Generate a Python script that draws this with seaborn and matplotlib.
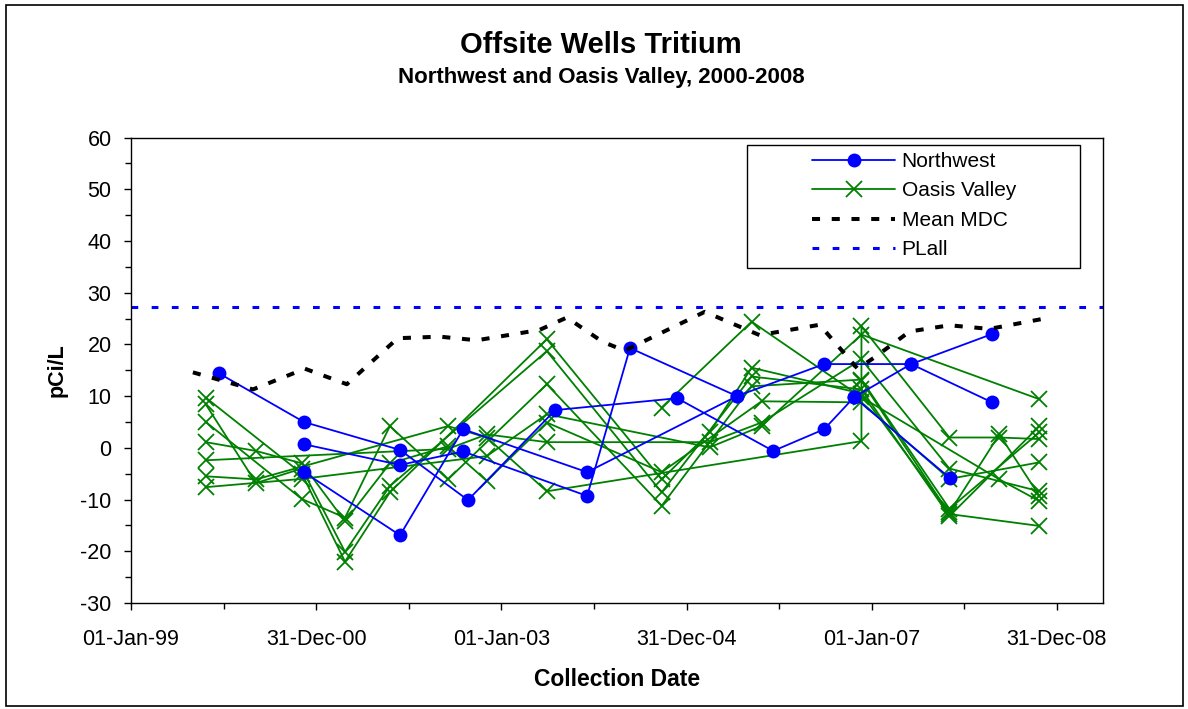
import pandas as pd
import matplotlib
matplotlib.use("Agg")
import matplotlib.pyplot as plt
import matplotlib.dates as mdates
from matplotlib.lines import Line2D
from matplotlib.patches import Rectangle
import seaborn as sns

# Northwest wells (sample date, pCi/L)
nw1_dates = ["1999-12-14", "2000-11-13", "2001-11-27", "2002-08-22", "2003-08-01",
             "2004-11-24", "2005-12-08", "2006-06-27", "2006-10-23", "2007-11-06"]
nw1_vals = [14.4, 5.0, -0.4, -10.1, 7.3, 9.6, -0.6, 3.6, 9.8, -5.9]
nw2_dates = ["2000-11-13", "2001-11-27", "2002-08-03", "2003-12-05", "2004-05-22",
             "2005-07-18", "2006-06-27", "2007-06-05", "2008-04-19"]
nw2_vals = [0.7, -3.3, -0.7, -9.3, 19.3, 10.0, 16.2, 16.2, 22.0]
nw3_dates = ["2000-11-13", "2001-11-27", "2002-08-03", "2003-12-05", "2005-07-18"]
nw3_vals = [-4.7, -16.9, 3.6, -4.7, 10.0]
nw4_dates = ["2006-10-23", "2007-06-05", "2008-04-19"]
nw4_vals = [9.8, 16.2, 8.8]

# Oasis Valley wells
ov_dates = {
    "G1": ["1999-10-23", "2000-11-05", "2001-04-24", "2001-10-18", "2003-06-29", "2004-09-24",
           "2005-04-01", "2005-09-14", "2006-11-21", "2007-11-03", "2008-05-18", "2008-10-23"],
    "G2": ["1999-10-23", "2000-05-08", "2000-11-05", "2001-04-24", "2001-10-18", "2003-06-29",
           "2004-09-24", "2005-09-14", "2006-11-21", "2007-11-03", "2008-10-23"],
    "G3": ["1999-10-23", "2000-11-05", "2001-04-24", "2001-10-18", "2002-06-04", "2003-06-29",
           "2004-09-24", "2005-09-14", "2006-11-21", "2007-11-03", "2008-10-23"],
    "G4": ["1999-10-23", "2000-05-08", "2000-11-05", "2001-04-24", "2001-10-18", "2002-06-04",
           "2002-11-04", "2003-06-29", "2004-09-24", "2005-10-23", "2006-11-21", "2007-11-03",
           "2008-10-23"],
    "G5": ["1999-10-23", "2002-06-04", "2002-11-04", "2003-06-29", "2005-04-01", "2005-10-23",
           "2006-11-21", "2007-11-03", "2008-10-23"],
    "G6": ["1999-10-23", "2000-05-08", "2002-06-04", "2002-11-04", "2003-06-29", "2006-11-21",
           "2006-11-21", "2007-11-03", "2008-05-18", "2008-10-23"],
    "G7": ["1999-10-23", "2000-11-05", "2002-11-04", "2003-06-29", "2005-04-01", "2005-10-23",
           "2006-11-21", "2008-10-23"],
    "G8": ["2004-09-24", "2005-09-14", "2006-11-21", "2008-05-18", "2008-10-23"],
    "G9": ["2006-11-21", "2007-11-03", "2008-10-23"],
}
ov_vals = {
    "G1": [9.7, -5.0, -22.0, -8.6, 21.0, -6.1, 3.0, 15.5, 10.5, -12.5, 2.6, -9.3],
    "G2": [8.4, -6.8, -4.0, -20.1, -7.4, 18.7, -8.6, 13.8, 11.3, -13.2, 4.2],
    "G3": [5.0, -9.9, -13.5, 4.2, -6.1, 12.3, -11.2, 11.9, 13.2, -11.8, 3.0],
    "G4": [1.1, -0.6, -3.0, -14.2, -3.0, 0.3, -6.4, 4.9, -4.7, 9.0, 8.8, -6.0, -2.8],
    "G5": [-2.4, -0.2, 2.6, 1.1, 1.1, 4.9, 17.1, -4.0, -8.4],
    "G6": [-5.5, -6.1, 4.2, 2.0, -8.4, 1.3, 23.5, 2.0, 2.0, 1.7],
    "G7": [-7.6, -6.0, -1.6, 6.5, 0.1, 4.2, 21.9, 9.4],
    "G8": [7.8, 24.4, 9.8, -6.1, -10.3],
    "G9": [13.0, -12.8, -15.1],
}

# Mean MDC
mdc_dates = ["1999-09-02", "2000-04-26", "2000-11-17", "2001-05-01", "2001-11-18", "2002-05-03",
             "2002-09-26", "2003-05-31", "2003-09-16", "2004-02-04", "2004-05-01", "2005-03-13",
             "2005-10-15", "2006-06-09", "2006-11-06", "2007-01-12", "2007-05-30", "2007-11-03",
             "2008-04-09", "2008-11-12"]
mdc_vals = [14.6, 11.3, 15.3, 12.3, 21.2, 21.5, 20.8, 22.8, 25.2, 20.5, 18.8, 26.3,
            21.8, 23.8, 15.3, 17.5, 22.5, 23.7, 23.0, 25.0]
plall = 27.2

xtick_dates = ["1999-01-01", "2000-12-31", "2003-01-01", "2004-12-31", "2007-01-01", "2008-12-31"]
xtick_labels = ["01-Jan-99", "31-Dec-00", "01-Jan-03", "31-Dec-04", "01-Jan-07", "31-Dec-08"]

nw_rows = []
for name, d, v in [("NW1", nw1_dates, nw1_vals), ("NW2", nw2_dates, nw2_vals),
                   ("NW3", nw3_dates, nw3_vals), ("NW4", nw4_dates, nw4_vals)]:
    for di, vi in zip(d, v):
        nw_rows.append({"well": name, "date": pd.Timestamp(di), "value": vi})
nw = pd.DataFrame(nw_rows)

ov_rows = []
for name in ov_dates:
    for di, vi in zip(ov_dates[name], ov_vals[name]):
        ov_rows.append({"well": name, "date": pd.Timestamp(di), "value": vi})
ov = pd.DataFrame(ov_rows)

mdc = pd.DataFrame({"date": pd.to_datetime(mdc_dates), "value": mdc_vals})

sns.set_style("ticks")
plt.rcParams['font.family'] = ['Liberation Sans', 'DejaVu Sans']
plt.rcParams['axes.unicode_minus'] = False
plt.rcParams['text.color'] = 'black'
plt.rcParams['axes.labelcolor'] = 'black'
plt.rcParams['xtick.color'] = 'black'
plt.rcParams['ytick.color'] = 'black'

fig = plt.figure(figsize=(11.88, 7.09), dpi=100)
ax = fig.add_axes([0.1103, 0.1495, 0.8182, 0.6565])

sns.lineplot(data=ov, x="date", y="value", units="well", estimator=None, sort=False,
             color="#008000", lw=1.3, marker="x", markersize=11, markeredgewidth=1.3,
             markeredgecolor="#008000", legend=False, ax=ax)
sns.lineplot(data=nw, x="date", y="value", units="well", estimator=None, sort=False,
             color="#0000ff", lw=1.3, marker="o", markersize=10, markeredgewidth=0,
             markeredgecolor="#0000ff", legend=False, ax=ax)
mdc_style = (0, (2.0, 2.9))
pl_style = (0, (2.2, 4.4))
sns.lineplot(data=mdc, x="date", y="value", estimator=None, sort=False, color="black",
             lw=2.9, linestyle=mdc_style, legend=False, ax=ax)
ax.axhline(plall, color="#0000ff", lw=2.2, linestyle=pl_style)

ax.set_xlim(pd.Timestamp("1999-01-01"), pd.Timestamp("2009-07-01"))
ax.set_ylim(-30, 60)
ax.set_yticks(range(-30, 61, 10))
ax.set_yticks(range(-25, 60, 10), minor=True)
xt = mdates.date2num(pd.to_datetime(xtick_dates))
ax.set_xticks(xt)
ax.set_xticklabels(xtick_labels)
ax.set_xticks((xt[:-1] + xt[1:]) / 2, minor=True)
ax.tick_params(axis="both", which="major", direction="out", length=5, width=1, labelsize=15.5, color="black")
ax.tick_params(axis="both", which="minor", direction="out", length=4, width=1, color="black")
ax.tick_params(axis="x", which="major", pad=14)
ax.tick_params(axis="y", which="major", pad=9)
for s in ax.spines.values():
    s.set_visible(True)
    s.set_color("black")
    s.set_linewidth(1.0)

ax.set_xlabel("Collection Date", fontsize=16.5, fontweight="bold", labelpad=13)
ax.set_ylabel("pCi/L", fontsize=15.5, fontweight="bold", labelpad=9)

fig.text(601 / 1188, 1 - 45 / 709, "Offsite Wells Tritium", ha="center", va="center",
         fontsize=21, fontweight="bold")
fig.text(601 / 1188, 1 - 77 / 709, "Northwest and Oasis Valley, 2000-2008", ha="center",
         va="center", fontsize=16, fontweight="bold")

handles = [
    Line2D([], [], color="#0000ff", lw=1.3, marker="o", markersize=10, markeredgewidth=0),
    Line2D([], [], color="#008000", lw=1.3, marker="x", markersize=11, markeredgewidth=1.3),
    Line2D([], [], color="black", lw=2.9, linestyle=mdc_style),
    Line2D([], [], color="#0000ff", lw=2.2, linestyle=pl_style),
]
labels = ["Northwest", "Oasis Valley", "Mean MDC", "PLall"]
ax.legend(handles, labels, loc="upper left", bbox_to_anchor=(812 / 1188, 1 - 152 / 709),
          bbox_transform=fig.transFigure, frameon=False, fontsize=15, handlelength=4.0,
          handletextpad=0.3, labelspacing=0.5, borderpad=0, borderaxespad=0)
fig.patches.append(Rectangle((747 / 1188, 1 - 268 / 709), 333 / 1188, 123 / 709,
                             transform=fig.transFigure, fill=False, edgecolor="black", lw=1.0))
fig.patches.append(Rectangle((6 / 1188, 3 / 709), 1177 / 1188, 701 / 709,
                             transform=fig.transFigure, fill=False, edgecolor="black", lw=1.2))

fig.savefig("out.png", dpi=100)
